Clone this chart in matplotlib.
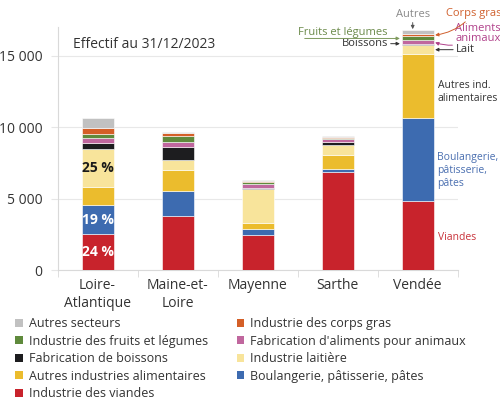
import numpy as np
import matplotlib
matplotlib.use("Agg")
import matplotlib.pyplot as plt
from matplotlib.patches import Patch

plt.rcParams['font.family'] = ['Open Sans', 'DejaVu Sans']

# departements
departements = ["Loire-\nAtlantique", "Maine-et-\nLoire", "Mayenne", "Sarthe", "Vendée"]

# effectifs par secteur, du bas vers le haut de la pile
viandes      = [2530, 3750, 2460, 6860, 4800]
boulangerie  = [2000, 1750,  400,  230, 5830]
autres_ind   = [1300, 1500,  440,  940, 4470]
laitiere     = [2640,  680, 2370,  730,  630]
boissons     = [ 430,  940,   70,  210,   50]
aliments     = [ 370,  310,  280,  210,  280]
fruits       = [ 260,  470,  120,   80,  280]
corps_gras   = [ 420,  160,  120,   80,  190]
autres       = [ 680,   90,   60,   70,  260]

noms = ["Industrie des viandes", "Boulangerie, pâtisserie, pâtes",
        "Autres industries alimentaires", "Industrie laitière",
        "Fabrication de boissons", "Fabrication d'aliments pour animaux",
        "Industrie des fruits et légumes", "Industrie des corps gras",
        "Autres secteurs"]
couleurs = ["#c8232c", "#3d6bb0", "#ebbc2d", "#f8e49b", "#1d1d1f",
            "#c0679e", "#5f8a3c", "#d45f27", "#c1c1c1"]

series = np.array([viandes, boulangerie, autres_ind, laitiere, boissons,
                   aliments, fruits, corps_gras, autres], dtype=float)

fig = plt.figure(figsize=(5.0, 4.07), dpi=100)
ax = fig.add_axes([0.115, 0.3366, 0.8, 0.597])

x = np.arange(len(departements))
w = 0.4
bas = np.zeros(len(departements))
for vals, c in zip(series, couleurs):
    ax.bar(x, vals, w, bottom=bas, color=c, edgecolor="white", linewidth=0.4, zorder=3)
    bas += vals
totaux = bas
cumul = np.vstack([np.zeros(len(x)), np.cumsum(series, axis=0)])

# pourcentages Loire-Atlantique
for k, col in [(0, "white"), (1, "white"), (3, "#1a1a1a")]:
    pct = series[k, 0] / totaux[0] * 100
    ymid = cumul[k, 0] + series[k, 0] / 2
    ax.text(0, ymid, f"{pct:.0f} %", ha="center", va="center", color=col,
            fontsize=10, fontweight="bold", zorder=4)

# axes
ax.set_xlim(-0.5, 4.5)
ax.set_ylim(0, 17000)
ax.set_yticks([0, 5000, 10000, 15000])
ax.set_yticklabels(["0", "5 000", "10 000", "15 000"])
ax.set_xticks(x)
ax.set_xticklabels(departements)
ax.set_xticks(np.arange(-0.5, 5, 1), minor=True)
ax.tick_params(axis="x", which="major", length=0, pad=6, labelsize=10, labelcolor="#333333")
ax.tick_params(axis="x", which="minor", length=5, color="#d9d9d9")
ax.tick_params(axis="y", length=5, color="#e6e6e6", labelsize=10, labelcolor="#333333", pad=6)
ax.grid(axis="y", color="#e8e8e8", linewidth=0.8, zorder=0)
for s in ["top", "right"]:
    ax.spines[s].set_visible(False)
for s in ["left", "bottom"]:
    ax.spines[s].set_color("#d9d9d9")

ax.text(0.039, 0.93, "Effectif au 31/12/2023", transform=ax.transAxes,
        fontsize=10, color="#333333", ha="left", va="center")

# annotations de la barre Vendée
v = 4
xd = v + w / 2
xg = v - w / 2
mid = lambda k: cumul[k, v] + series[k, v] / 2
fs = 8
fs_cote = 7.5

ax.text(xd + 0.05, mid(0) - 150, "Viandes", color="#c8323a", fontsize=fs_cote, va="center")
ax.text(xd + 0.05, mid(1) - 750, "Boulangerie,\npâtisserie,\npâtes", color="#4a6fb0",
        fontsize=fs_cote, va="center", linespacing=1.2)
ax.text(xd + 0.05, mid(2) - 400, "Autres ind.\nalimentaires", color="#333333",
        fontsize=fs_cote, va="center", linespacing=1.2)

arrow = dict(arrowstyle="-|>", lw=0.7, mutation_scale=5, shrinkA=0, shrinkB=0)
ax.annotate("Lait", xy=(xd + 0.02, mid(3)), xytext=(xd + 0.28, mid(3)),
            fontsize=fs, color="#333333", va="center",
            arrowprops=dict(arrow, color="#333333"), annotation_clip=False)
ax.annotate("Boissons", xy=(xg - 0.02, mid(4) + 80), xytext=(xg - 0.17, mid(4) + 80),
            fontsize=fs, color="#333333", va="center", ha="right",
            arrowprops=dict(arrow, color="#333333"), annotation_clip=False)
ax.annotate("", xy=(xg - 0.02, mid(6)), xytext=(xg - 1.21, mid(6)),
            arrowprops=dict(arrow, color="#7f9a5e"), annotation_clip=False)
ax.text(xg - 0.17, mid(6) + 20, "Fruits et légumes", color="#6b8a4a", fontsize=fs,
        ha="right", va="bottom")
ax.annotate("Aliments\nanimaux", xy=(xd + 0.02, mid(5)), xytext=(xd + 0.27, totaux[v] - 250),
            fontsize=fs, color="#b0408a", va="center", ha="left", linespacing=0.95,
            arrowprops=dict(arrow, color="#b0408a", connectionstyle="arc3,rad=-0.3"),
            annotation_clip=False)
ax.annotate("Corps gras", xy=(xd + 0.02, mid(7)), xytext=(xd + 0.15, totaux[v] + 1150),
            fontsize=fs, color="#d0602d", va="center", ha="left",
            arrowprops=dict(arrow, color="#d0602d", connectionstyle="arc3,rad=-0.2"),
            annotation_clip=False)
ax.annotate("Autres", xy=(v - 0.06, totaux[v] + 60), xytext=(v - 0.06, totaux[v] + 1100),
            fontsize=fs, color="#8a8a8a", va="center", ha="center",
            arrowprops=dict(arrow, color="#555555"), annotation_clip=False)

# legende, ordre par lignes
ordre = [8, 6, 4, 2, 0, 7, 5, 3, 1]
handles = [Patch(facecolor=couleurs[i], edgecolor="none") for i in ordre]
labels = [noms[i] for i in ordre]
fig.legend(handles, labels, ncol=2, loc="upper left", bbox_to_anchor=(0.03, 0.22),
           frameon=False, fontsize=9, handlelength=0.6, handleheight=0.6,
           handletextpad=0.5, labelspacing=0.35, columnspacing=2.3,
           labelcolor="#333333", borderaxespad=0, borderpad=0)

fig.savefig("out.png", dpi=100)
